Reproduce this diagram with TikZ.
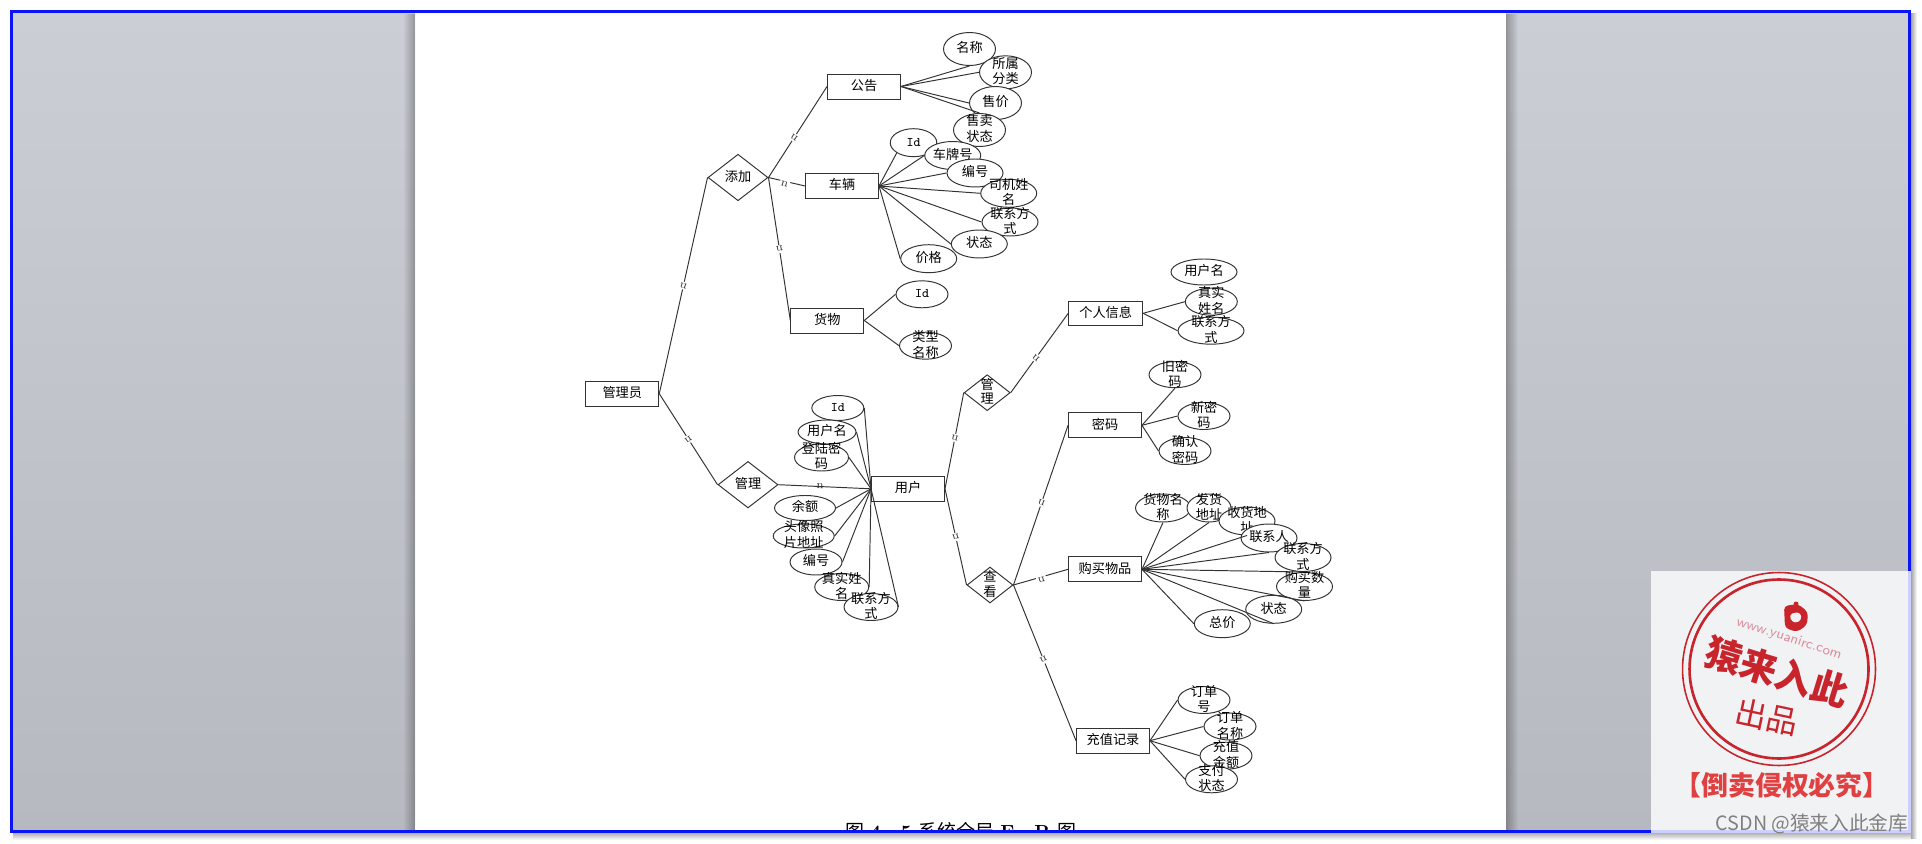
\documentclass[tikz,border=0pt]{standalone}
\usepackage{fontspec}
\usetikzlibrary{shapes.geometric,fadings}
\newfontfamily\cjk{Noto Sans CJK SC}
\definecolor{paneltop}{HTML}{CBCED4}
\definecolor{panelbot}{HTML}{B6B9BF}
\definecolor{frameblue}{HTML}{0A14F5}
\definecolor{markbg}{HTML}{F0F2F4}
\definecolor{markedge}{HTML}{CDD0FF}
\definecolor{stampred}{HTML}{C8242C}
\definecolor{stamppink}{HTML}{DC8C9C}
\definecolor{warnred}{HTML}{E04040}
\definecolor{inkgray}{HTML}{333333}
% text that does not widen its shape
\newcommand{\lbl}[1]{\smash{\makebox[0pt]{\raisebox{-.27em}{\begin{tabular}{@{}c@{}}#1\end{tabular}}}}}
\tikzset{
  entity/.style={draw=inkgray, line width=0.55pt, fill=white, minimum width=1.46cm, minimum height=0.5cm, inner sep=0pt, font=\cjk\fontsize{7.5}{8.5}\selectfont},
  attr/.style={ellipse, draw=inkgray, line width=0.55pt, fill=white, minimum width=1.04cm, minimum height=0.54cm, inner sep=0pt, font=\cjk\fontsize{7.5}{8.5}\selectfont},
  wide/.style={minimum width=1.12cm, minimum height=0.56cm},
  rel/.style={diamond, draw=inkgray, line width=0.55pt, fill=white, minimum width=1.2cm, minimum height=0.93cm, inner sep=0pt, font=\cjk\fontsize{7.5}{8.5}\selectfont},
  smallrel/.style={minimum width=0.92cm, minimum height=0.72cm},
  link/.style={draw=inkgray, line width=0.55pt},
  card/.style={font=\fontsize{6.5}{6.5}\selectfont, text=inkgray, fill=white, inner sep=0.8pt}
}
\begin{document}
\begin{tikzpicture}[x=0.02cm, y=-0.02cm]
\useasboundingbox (0,0) rectangle (1922,844);
\fill[white] (0,0) rectangle (1922,844);
% window behind the page
\shade[top color=gray!25, bottom color=white] (1911,833) rectangle (1916,840);
\shade[top color=gray!60, bottom color=white] (13,833) rectangle (1911,840);
\shade[left color=gray!70, right color=white] (1911,14) rectangle (1917,838);
\shade[top color=paneltop, bottom color=panelbot] (13,13) rectangle (415,831);
\shade[top color=paneltop, bottom color=panelbot] (1506,13) rectangle (1909,831);
\fill[black, opacity=0.28, path fading=west] (403,13) rectangle (415,831);
\fill[black, opacity=0.28, path fading=east] (1506,13) rectangle (1518,831);
% caption, cut by the frame
\begin{scope}
\clip (415,13) rectangle (1506,831);
\node[anchor=base, font=\fontsize{10.8}{12}\selectfont, inner sep=0pt] (caption) at (960.5,838) {\spaceskip=.33em {\cjk 图} \textbf{4 - 5} {\cjk 系统全局} \textbf{E - R} {\cjk 图}};
\end{scope}
% left tree
\node[entity] (admin) at (622.3,393.7) {\lbl{管理员}};
\node[rel] (add) at (738,177.5) {\lbl{添加}};
\node[rel] (manage) at (748,484.7) {\lbl{管理}};
\node[entity] (notice) at (864,86.5) {\lbl{公告}};
\node[entity] (car) at (842,186) {\lbl{车辆}};
\node[entity] (cargo) at (827.3,320.5) {\lbl{货物}};
\node[entity] (user) at (908,488.8) {\lbl{用户}};
% notice
\node[attr, minimum height=0.66cm] (ntitle) at (969.5,49) {\lbl{名称}};
\node[attr, minimum height=0.66cm] (nsort) at (1005.5,72.3) {\lbl{所属\\分类}};
\node[attr, minimum height=0.66cm] (nprice) at (995.5,103) {\lbl{售价}};
\node[attr, minimum height=0.66cm] (nstate) at (979.5,130) {\lbl{售卖\\状态}};
% car
\node[attr, minimum width=0.93cm, minimum height=0.56cm] (cid) at (913.5,142.7) {\lbl{\ttfamily Id}};
\node[attr, wide] (cplate) at (952.7,155.5) {\lbl{车牌号}};
\node[attr, wide] (cno) at (975,173) {\lbl{编号}};
\node[attr, wide] (cdriver) at (1008.7,193.3) {\lbl{司机姓\\名}};
\node[attr, wide] (cphone) at (1010,222) {\lbl{联系方\\式}};
\node[attr, wide] (cstate) at (979.3,244) {\lbl{状态}};
\node[attr, wide] (cprice) at (928.7,258.7) {\lbl{价格}};
% cargo
\node[attr] (gid) at (922,294.3) {\lbl{\ttfamily Id}};
\node[attr] (gtype) at (925.5,345.7) {\lbl{类型\\名称}};
% user
\node[attr, minimum height=0.5cm] (uid) at (837.8,408) {\lbl{\ttfamily Id}};
\node[attr, minimum width=1.16cm, minimum height=0.48cm] (uname) at (827,432) {\lbl{用户名}};
\node[attr, minimum width=1.08cm] (upass) at (821.5,457.5) {\lbl{登陆密\\码}};
\node[attr, minimum width=1.22cm, minimum height=0.5cm] (ubal) at (805,508) {\lbl{余额}};
\node[attr, minimum width=1.22cm, minimum height=0.48cm] (uphoto) at (803.7,536) {\lbl{头像照\\片地址}};
\node[attr, minimum height=0.52cm] (uno) at (816,562) {\lbl{编号}};
\node[attr, minimum width=1.08cm] (ureal) at (841.7,587) {\lbl{真实姓\\名}};
\node[attr, minimum width=1.08cm] (uphone) at (871,607) {\lbl{联系方\\式}};
% right tree
\node[rel, smallrel] (umanage) at (987.2,392.7) {\lbl{管\\理}};
\node[rel, smallrel] (uview) at (990,585) {\lbl{查\\看}};
\node[entity, minimum width=1.48cm, minimum height=0.48cm] (info) at (1105.7,313.3) {\lbl{个人信息}};
\node[entity] (pass) at (1105,425.3) {\lbl{密码}};
\node[entity] (buy) at (1105,569.3) {\lbl{购买物品}};
\node[entity] (charge) at (1113,740.7) {\lbl{充值记录}};
% info
\node[attr, minimum width=1.32cm, minimum height=0.52cm] (iname) at (1204,272) {\lbl{用户名}};
\node[attr] (ireal) at (1211.3,301.7) {\lbl{真实\\姓名}};
\node[attr, minimum width=1.32cm] (iphone) at (1211,330.7) {\lbl{联系方\\式}};
% password
\node[attr, minimum height=0.52cm] (pold) at (1175,374.7) {\lbl{旧密\\码}};
\node[attr] (pnew) at (1204,416) {\lbl{新密\\码}};
\node[attr] (psure) at (1185,451) {\lbl{确认\\密码}};
% buy
\node[attr, minimum width=1.1cm, minimum height=0.56cm] (bname) at (1163,508) {\lbl{货物名\\称}};
\node[attr, minimum width=0.88cm, minimum height=0.56cm] (bfrom) at (1209,508) {\lbl{发货\\地址}};
\node[attr, wide] (bto) at (1247,521) {\lbl{收货地\\址}};
\node[attr, wide] (bman) at (1269,538) {\lbl{联系人}};
\node[attr, wide] (bphone) at (1303,557.5) {\lbl{联系方\\式}};
\node[attr, wide] (bnum) at (1304.5,586.5) {\lbl{购买数\\量}};
\node[attr, wide] (bstate) at (1273.7,609.3) {\lbl{状态}};
\node[attr, wide] (btotal) at (1222.3,623.7) {\lbl{总价}};
% charge
\node[attr] (rno) at (1204,700) {\lbl{订单\\号}};
\node[attr] (rname) at (1230,726.5) {\lbl{订单\\名称}};
\node[attr] (rsum) at (1226,755.7) {\lbl{充值\\金额}};
\node[attr] (rstate) at (1211.5,779.3) {\lbl{支付\\状态}};
% attribute links
\foreach \t in {ntitle.south,nsort.west,nprice.west,nstate.north} \draw[link] (notice.east) -- (\t);
\foreach \t in {cid.south west,cplate.west,cno.west,cdriver.west,cphone.west,cstate.west,cprice.west} \draw[link] (car.east) -- (\t);
\foreach \t in {gid.west,gtype.west} \draw[link] (cargo.east) -- (\t);
\foreach \t in {uid,uname,upass,ubal,uphoto,uno,ureal,uphone} \draw[link] (user.west) -- (\t.east);
\foreach \t in {ireal,iphone} \draw[link] (info.east) -- (\t.west);
\foreach \t in {pold.south,pnew.west,psure.west} \draw[link] (pass.east) -- (\t);
\foreach \t in {bname,bfrom,bto,bman,bphone,bnum,bstate} \draw[link] (buy.east) -- (\t.south);
\draw[link] (buy.east) -- (btotal.west);
\foreach \t in {rno,rname,rsum,rstate} \draw[link] (charge.east) -- (\t.west);
% relation links
\draw[link] (admin.east) -- node[card, pos=.5, rotate=165] {n} (add.west);
\draw[link] (admin.east) -- node[card, pos=.5, rotate=215] {n} (manage.west);
\draw[link] (add.east) -- node[card, pos=.44, rotate=147] {n} (notice.west);
\draw[link] (add.east) -- node[card, pos=.46, rotate=-15, yshift=-1.5pt] {n} (car.west);
\draw[link] (add.east) -- node[card, pos=.5, rotate=190] {n} (cargo.west);
\draw[link] (manage.east) -- node[card, pos=.45, rotate=-2, fill=none] {n} (user.west);
\draw[link] (user.east) -- node[card, pos=.53, rotate=165] {n} (umanage.west);
\draw[link] (user.east) -- node[card, pos=.5, rotate=195] {n} (uview.west);
\draw[link] (umanage.east) -- node[card, pos=.44, rotate=140] {n} (info.west);
\draw[link] (uview.east) -- node[card, pos=.515, rotate=160] {n} (pass.west);
\draw[link] (uview.east) -- node[card, pos=.5, rotate=195, yshift=1.5pt] {n} (buy.west);
\draw[link] (uview.east) -- node[card, pos=.48, rotate=205] {n} (charge.west);
% frame
\draw[frameblue, line width=1.7pt] (11.5,11.5) rectangle (1909.5,831.5);
% stamp
\fill[markbg] (1651,571) rectangle (1908,830);
\fill[markedge] (1908,571) rectangle (1911,833);
\fill[markedge] (1651,830) rectangle (1908,833);
\draw[stampred, line width=0.9pt] (1779,669) circle[radius=1.93cm];
\draw[stampred, line width=1.5pt] (1779,669) circle[radius=1.79cm];
\fill[stampred, rounded corners=0.08cm] (1784,606) -- (1798,604) -- (1808,612) -- (1807,625) -- (1797,632) -- (1785,628) -- cycle;
\fill[markbg, rounded corners=0.04cm] (1790,614) -- (1799,612) -- (1802,618) -- (1797,623) -- (1791,621) -- cycle;
\fill[stampred] (1796,604) circle[radius=0.05cm];
\node[font=\fontsize{8}{9}\sffamily\selectfont, text=stamppink, rotate=-18, inner sep=0pt] (site) at (1789,639) {www.yuanirc.com};
\node[font=\cjk\bfseries\fontsize{21}{23}\selectfont, text=stampred, rotate=-17, inner sep=0pt] (brand) at (1777,672) {猿来入此};
\node[font=\cjk\fontsize{18}{20}\selectfont, text=stampred, rotate=-12, inner sep=0pt] (made) at (1767,717) {出品};
\node[font=\cjk\bfseries\fontsize{15.3}{17}\selectfont, text=warnred, inner sep=0pt] (warn) at (1782,785) {【倒卖侵权必究】};
\node[font=\cjk\fontsize{11.2}{13}\selectfont, text=gray, inner sep=0pt] (credit) at (1812,824) {CSDN @猿来入此金库};
\end{tikzpicture}
\end{document}
